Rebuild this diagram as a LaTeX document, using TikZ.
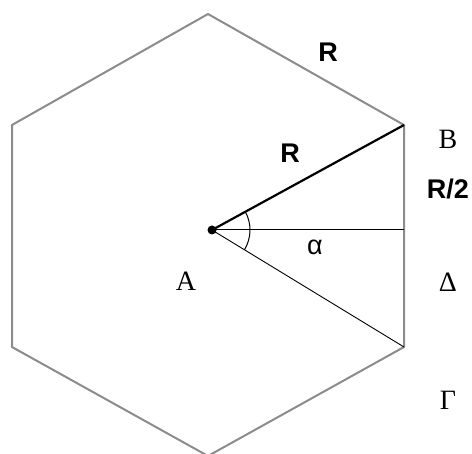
\documentclass[tikz,border=0pt]{standalone}
\usepackage{fontspec}
\usetikzlibrary{calc}
\setmainfont{Liberation Serif}
\newfontfamily\lsans{Liberation Sans}
\begin{document}
\begin{tikzpicture}[x=1pt,y=-1pt,
  hexedge/.style={draw=gray!90, line width=2pt, line join=miter},
  serlab/.style={font=\fontsize{28}{28}\selectfont, inner sep=0pt},
  sanslab/.style={font=\lsans\bfseries\fontsize{27}{27}\selectfont, inner sep=0pt}]
\useasboundingbox (0,0) rectangle (472,454);
\fill[white] (0,0) rectangle (472,454);
\coordinate (T) at (208,14);
\coordinate (UR) at (404,125);
\coordinate (LR) at (404,347);
\coordinate (Bo) at (208,456);
\coordinate (LL) at (12,347);
\coordinate (UL) at (12,125);
\coordinate (H) at (404,230);
\draw[hexedge] (UL) -- (T) -- (UR) -- (LR) -- (Bo) -- (LL) -- cycle;
\node[circle, fill=black, inner sep=0pt, minimum size=9pt] (A) at (212,230) {};
\draw[line width=2.2pt] (A.center) -- (UR);
\draw[line width=1pt] (A.center) -- (H);
\draw[line width=0.9pt] (A.center) -- (LR);
\draw[line width=1pt] ($(A.center)+(-28.7:38)$) arc[start angle=-28.7, end angle=31.4, radius=38];
\node[sanslab] (Rtop) at (328,52) {R};
\node[sanslab] (Rmid) at (290,153) {R};
\node[sanslab] (Rhalf) at (448,189) {R/2};
\node[font=\lsans\fontsize{27}{27}\selectfont, inner sep=0pt] (al) at (315,247) {α};
\node[serlab] (Bl) at (448,139) {B};
\node[serlab] (Al) at (186,281) {A};
\node[serlab] (Dl) at (448,282) {Δ};
\node[serlab] (Gl) at (448,400) {Γ};
\end{tikzpicture}
\end{document}
